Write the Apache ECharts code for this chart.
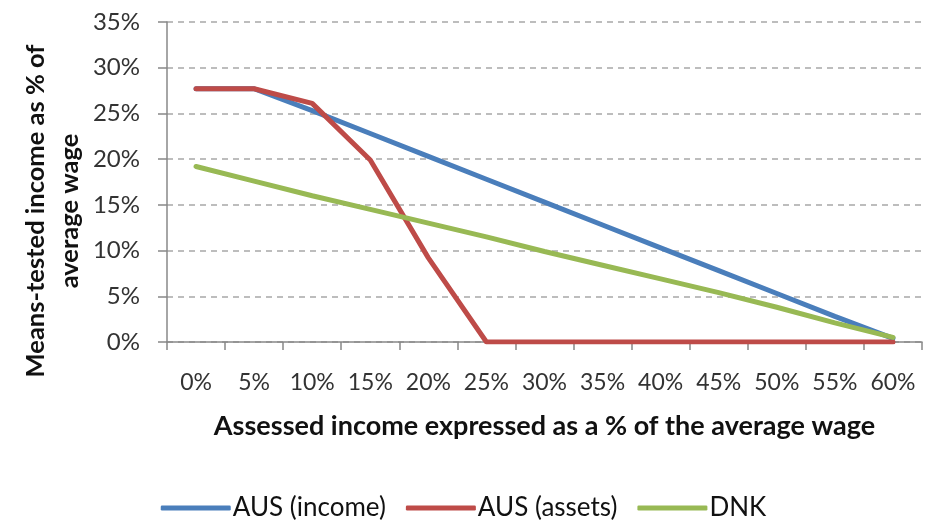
<!DOCTYPE html>
<html><head><meta charset="utf-8">
<script src="https://cdn.jsdelivr.net/npm/echarts@6/dist/echarts.min.js"></script>
<style>html,body{margin:0;padding:0;background:#fff}#c{width:927px;height:522px}</style>
</head><body><div id="c"></div>
<script>
const categories = ['0%','5%','10%','15%','20%','25%','30%','35%','40%','45%','50%','55%','60%'];
const ausIncome = [27.7,27.7,25.3,22.8,20.3,17.8,15.3,12.8,10.3,7.8,5.3,2.8,0.4];
const ausAssets = [27.7,27.7,26.1,19.9,9.2,0,0,0,0,0,0,0,0];
const dnk = [19.2,17.6,16.0,14.5,13.0,11.5,9.9,8.4,6.9,5.4,3.8,2.1,0.5];
const yTicks = {min:0,max:35,interval:5};
const seriesNames = ['AUS (income)','AUS (assets)','DNK'];
const colors = ['#4a7ebb','#be4b48','#98b954'];

const FONT = 'Lato, "Open Sans", sans-serif';
const chart = echarts.init(document.getElementById('c'), null, {renderer:'canvas'});
const mk = (name, data, color) => ({
  name, type:'line', data, symbol:'none', smooth:false,
  lineStyle:{width:5,color,cap:'round'}, itemStyle:{color}, z:2
});
chart.setOption({
  animation:false,
  textStyle:{fontFamily:FONT},
  grid:{left:167,right:5,top:22,bottom:180},
  legend:{
    top:490,left:'center',itemWidth:70,itemHeight:5,itemGap:20,
    icon:'roundRect',
    textStyle:{fontFamily:FONT,fontSize:26,color:'#111',padding:[0,0,0,-3]},
    data:seriesNames
  },
  xAxis:{
    type:'category',data:categories,boundaryGap:true,
    axisLine:{lineStyle:{color:'#888',width:1.5}},
    axisTick:{show:true,length:8,interval:0,lineStyle:{color:'#888',width:1.5}},
    axisLabel:{fontFamily:FONT,fontSize:23,color:'#333',margin:29,interval:0},
    name:'Assessed income expressed as a % of the average wage',
    nameLocation:'middle',nameGap:71,
    nameTextStyle:{fontFamily:FONT,fontSize:27,fontWeight:'bold',color:'#111'}
  },
  yAxis:{
    type:'value',min:yTicks.min,max:yTicks.max,interval:yTicks.interval,
    axisLine:{show:true,lineStyle:{color:'#888',width:1.5}},
    axisTick:{show:true,inside:false,length:9,lineStyle:{color:'#888',width:1.5}},
    axisLabel:{fontFamily:FONT,fontSize:24,color:'#333',margin:27,formatter:v=>v+'%'},
    splitLine:{show:true,lineStyle:{color:'#a8a8a8',type:[6,5],width:1.5}}
  },
  graphic:[{
    type:'text',x:53,y:211,rotation:Math.PI/2,
    style:{text:'Means-tested income as % of\naverage wage',fill:'#111',
      font:'bold 25.5px '+FONT,align:'center',verticalAlign:'middle',lineHeight:34}
  }],
  series:[mk(seriesNames[0],ausIncome,colors[0]),mk(seriesNames[1],ausAssets,colors[1]),mk(seriesNames[2],dnk,colors[2])]
});
</script></body></html>
